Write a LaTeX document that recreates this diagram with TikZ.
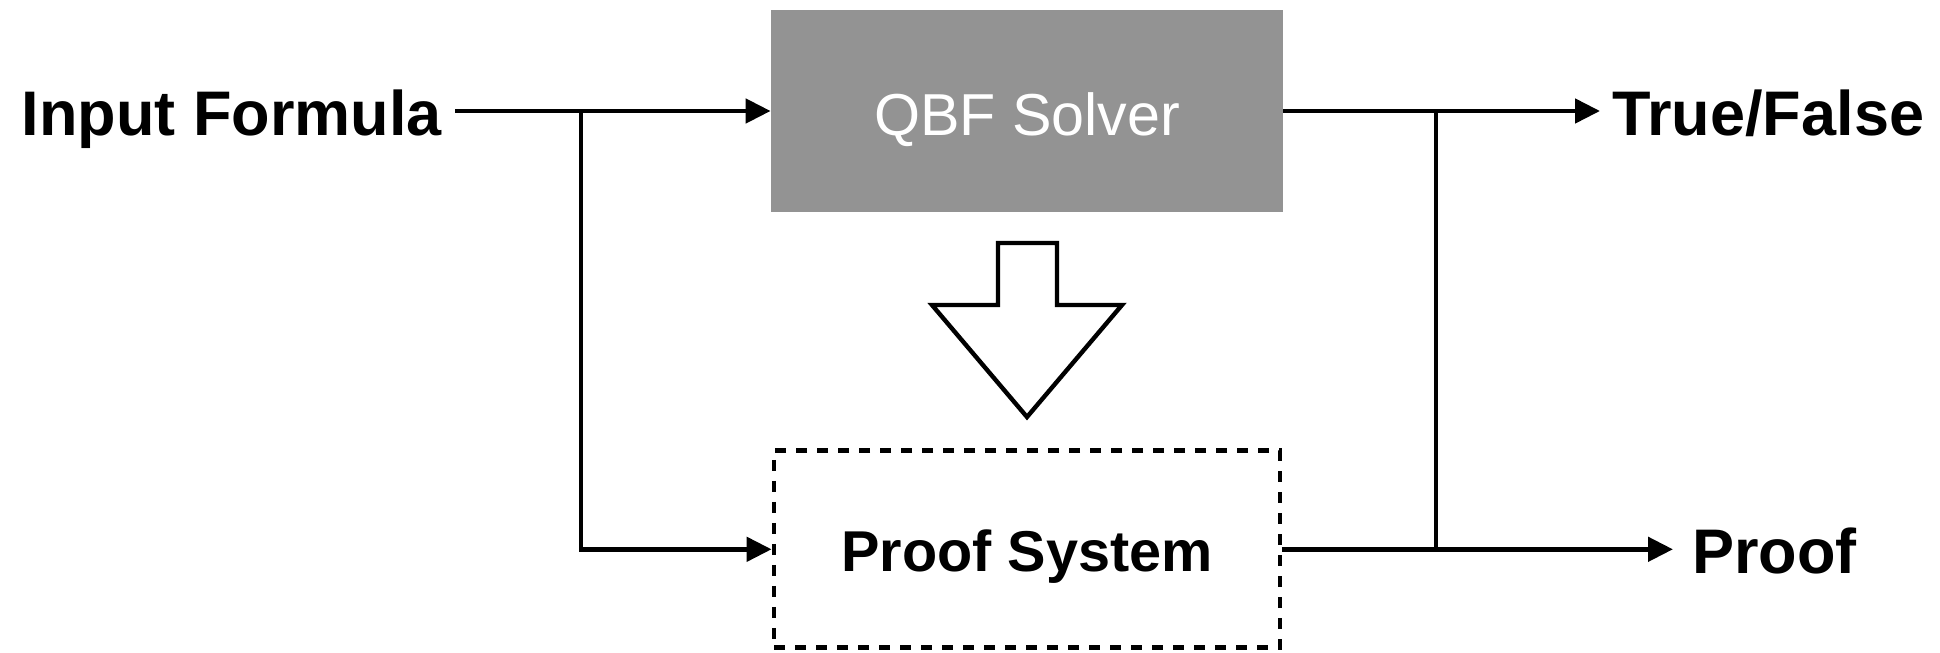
\documentclass[tikz,border=0pt]{standalone}
\usepackage{fontspec}
\setmainfont{Liberation Sans}
\usepackage{xcolor}
\usepackage{tikz}
\usetikzlibrary{arrows.meta,calc}
\definecolor{solvergray}{RGB}{147,147,147}
\tikzset{
  solverbox/.style={fill=solvergray, minimum width=256pt, minimum height=101pt,
                    inner sep=0pt, text height=24pt, text depth=0pt,
                    text=white, font=\fontsize{29.6}{34}\selectfont},
  proofbox/.style={draw, line width=2.4pt, dash pattern=on 5.5pt off 5pt,
                   minimum width=253pt, minimum height=98.5pt, inner sep=0pt,
                   text height=22.4pt, text depth=0pt,
                   font=\fontsize{28.8}{34}\selectfont\bfseries},
  io/.style={font=\fontsize{31.5}{36}\selectfont\bfseries, inner ysep=0pt},
  flow/.style={-{Triangle[length=12.5pt,width=12pt]}, line width=2.4pt},
  wire/.style={line width=2.4pt},
  hollow/.style={draw, line width=2.2pt, fill=white, line join=miter}
}

\begin{document}
\begin{tikzpicture}[x=0.5pt, y=-0.5pt]
        \useasboundingbox (0,0) rectangle (1940,653);
        \node[solverbox] (solver) at (1027,111) {QBF Solver};
        \node[proofbox] (proofsys) at (1027,549.3) {Proof System};
        \node[io, anchor=base east, inner xsep=6.5pt] (input) at (455,135) {Input Formula};
        \node[io, anchor=base west, inner xsep=6pt] (tf) at (1600,135) {True/False};
        \node[io, anchor=base west, inner xsep=9.5pt] (proof) at (1673,573) {Proof};
        \coordinate (fork in) at (581,111);
        \coordinate (fork out) at (1436,111);
        % formula goes to both the solver and the proof system
        \draw[flow] (input.east |- solver.west) -- (solver.west);
        \draw[flow] (fork in) |- (proofsys.west);
        % outputs
        \draw[flow] (solver.east) -- (solver.east -| tf.west);
        \draw[flow] (proofsys.east) -- (proofsys.east -| proof.west);
        \draw[wire] (fork out) -- (fork out |- proofsys.east);
        % big hollow arrow
        \draw[hollow] (998,243) -- (1057,243) -- (1057,305) -- (1122,305)
                      -- (1027,417) -- (932,305) -- (998,305) -- cycle;
      \end{tikzpicture}
\end{document}
